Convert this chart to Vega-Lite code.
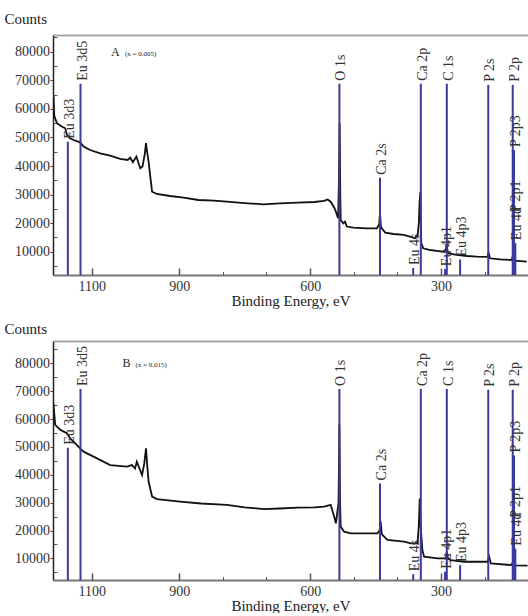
{
  "$schema": "https://vega.github.io/schema/vega-lite/v6.json",
  "padding": {"left": 4, "top": 11, "right": 0, "bottom": 0},
  "background": "white",
  "spacing": 13,
  "config": {
    "view": {"stroke": null},
    "axis": {"labelFont": "Liberation Serif", "titleFont": "Liberation Serif", "grid": false, "labelFontSize": 14, "labelColor": "#333", "titleColor": "#222", "titleFontWeight": "normal", "titleFontSize": 15}
  },
  "datasets": {
    "curveA": [
      {"E":1188,"V":64500},{"E":1186,"V":57500},{"E":1180,"V":55000},{"E":1169,"V":53800},{"E":1161,"V":53200},
      {"E":1157,"V":50900},{"E":1150,"V":49700},{"E":1142,"V":49100},{"E":1127,"V":48300},{"E":1119,"V":46800},
      {"E":1104,"V":45600},{"E":1081,"V":44400},{"E":1058,"V":43600},{"E":1035,"V":42500},{"E":1018,"V":42100},
      {"E":1012,"V":42900},{"E":1006,"V":41300},{"E":998,"V":43300},{"E":992,"V":40500},{"E":989,"V":39200},
      {"E":984,"V":39800},{"E":979,"V":44000},{"E":976,"V":48000},{"E":973,"V":44500},{"E":970,"V":41500},
      {"E":966,"V":36000},{"E":962,"V":31000},{"E":951,"V":30200},{"E":921,"V":29500},{"E":890,"V":28900},
      {"E":856,"V":28100},{"E":820,"V":27900},{"E":791,"V":27500},{"E":750,"V":27000},{"E":707,"V":26600},
      {"E":670,"V":26900},{"E":629,"V":27200},{"E":590,"V":27400},{"E":568,"V":27800},{"E":560,"V":28300},
      {"E":553,"V":27500},{"E":545,"V":25500},{"E":541,"V":24000},{"E":536,"V":21700},{"E":534,"V":35000},
      {"E":532.5,"V":55000},{"E":531,"V":30000},{"E":530,"V":21100},{"E":524,"V":19900},{"E":520,"V":20500},
      {"E":516,"V":18800},{"E":501,"V":18400},{"E":470,"V":18200},{"E":447,"V":18200},{"E":442,"V":19500},
      {"E":440,"V":23500},{"E":438,"V":19000},{"E":436,"V":18200},{"E":428,"V":16700},{"E":409,"V":16200},
      {"E":386,"V":15900},{"E":371,"V":15300},{"E":360,"V":14700},{"E":354,"V":15500},{"E":351,"V":20000},
      {"E":349.5,"V":27000},{"E":347.5,"V":30900},{"E":346.5,"V":20000},{"E":345.5,"V":13000},{"E":341,"V":11200},
      {"E":325,"V":10600},{"E":310,"V":10300},{"E":295,"V":10000},{"E":289,"V":10800},{"E":287.5,"V":12700},
      {"E":285.5,"V":10500},{"E":283,"V":9400},{"E":264,"V":8900},{"E":241,"V":8500},{"E":218,"V":8300},
      {"E":194,"V":8200},{"E":191,"V":9700},{"E":188.5,"V":7700},{"E":165,"V":7300},{"E":138,"V":7100},
      {"E":135,"V":9200},{"E":131,"V":6900},{"E":104,"V":6500}
    ],
    "curveB": [
      {"E":1188,"V":65600},{"E":1184,"V":57900},{"E":1172,"V":56100},{"E":1157,"V":54900},{"E":1150,"V":53100},
      {"E":1138,"V":51300},{"E":1127,"V":49500},{"E":1119,"V":48300},{"E":1096,"V":46500},{"E":1058,"V":43500},
      {"E":1020,"V":42900},{"E":1008,"V":43500},{"E":1001,"V":42300},{"E":997,"V":44700},{"E":985,"V":39900},
      {"E":980,"V":44000},{"E":976,"V":49500},{"E":973,"V":43000},{"E":970,"V":37500},{"E":962,"V":32200},
      {"E":951,"V":31300},{"E":898,"V":30400},{"E":850,"V":29700},{"E":791,"V":29200},{"E":750,"V":28300},
      {"E":706,"V":27700},{"E":670,"V":27900},{"E":629,"V":28200},{"E":590,"V":28300},{"E":568,"V":28600},
      {"E":553,"V":29200},{"E":545,"V":25000},{"E":541,"V":22600},{"E":535,"V":30000},{"E":533,"V":58000},
      {"E":531.5,"V":30000},{"E":530,"V":21400},{"E":522,"V":19600},{"E":507,"V":19000},{"E":446,"V":19000},
      {"E":441,"V":20000},{"E":438.5,"V":23200},{"E":436,"V":19000},{"E":434.5,"V":18400},{"E":423,"V":16600},
      {"E":385,"V":16000},{"E":369,"V":15400},{"E":354,"V":15400},{"E":351,"V":22000},{"E":349,"V":31500},
      {"E":347,"V":22000},{"E":343,"V":13000},{"E":339,"V":10600},{"E":308,"V":10000},{"E":289,"V":10000},
      {"E":287,"V":12400},{"E":284,"V":9800},{"E":278,"V":9400},{"E":247,"V":8800},{"E":194,"V":8800},
      {"E":190,"V":10600},{"E":186,"V":8200},{"E":140,"V":7600},{"E":135,"V":8600},{"E":131,"V":7500},{"E":102,"V":7400}
    ],
    "linesA": [
      {"E":1155,"top":48500,"name":"Eu 3d3"},
      {"E":1126,"top":68800,"name":"Eu 3d5"},
      {"E":533,"top":68800,"name":"O 1s"},
      {"E":440,"top":35900,"name":"Ca 2s"},
      {"E":364,"top":4300,"name":"Eu 4s"},
      {"E":346.5,"top":68800,"name":"Ca 2p"},
      {"E":291,"top":3900,"name":"Eu 4p1"},
      {"E":287,"top":68800,"name":"C 1s"},
      {"E":256.5,"top":7300,"name":"Eu 4p3"},
      {"E":192,"top":68400,"name":"P 2s"},
      {"E":136,"top":68400,"name":"P 2p"},
      {"E":133,"top":45600,"name":"P 2p3"},
      {"E":134,"top":22800,"name":"P 2p1"},
      {"E":130,"top":13000,"name":"Eu 4d"}
    ],
    "linesB": [
      {"E":1155,"top":49700,"name":"Eu 3d3"},
      {"E":1126,"top":70800,"name":"Eu 3d5"},
      {"E":533,"top":70800,"name":"O 1s"},
      {"E":440,"top":36900,"name":"Ca 2s"},
      {"E":364,"top":4300,"name":"Eu 4s"},
      {"E":346.5,"top":70800,"name":"Ca 2p"},
      {"E":291,"top":5200,"name":"Eu 4p1"},
      {"E":287,"top":70800,"name":"C 1s"},
      {"E":256.5,"top":7600,"name":"Eu 4p3"},
      {"E":192,"top":70500,"name":"P 2s"},
      {"E":136,"top":70500,"name":"P 2p"},
      {"E":133,"top":46900,"name":"P 2p3"},
      {"E":134,"top":23500,"name":"P 2p1"},
      {"E":130,"top":13500,"name":"Eu 4d"}
    ],
    "tagA": [{"E":1056,"V":78500,"t":"A","s":"(x = 0.005)","E2":1024}],
    "tagB": [{"E":1030,"V":78800,"t":"B","s":"(x = 0.015)","E2":1000}]
  },
  "vconcat": [
    {
      "width": 475, "height": 240,
      "resolve": {"axis": {"x": "independent", "y": "independent"}},
      "layer": [
        {
          "data": {"name": "curveA"},
          "mark": {"type": "line", "color": "#111", "strokeWidth": 1.8, "clip": true},
          "encoding": {
            "x": {"field": "E", "type": "quantitative", "scale": {"domain": [1189, 101], "nice": false, "zero": false},
              "axis": {"orient": "bottom", "values": [1100, 900, 600, 300], "format": "d", "ticks": false, "labelPadding": 4, "domainColor": "#777", "domainWidth": 2, "title": "Binding Energy, eV", "titlePadding": 0}},
            "y": {"field": "V", "type": "quantitative", "scale": {"domain": [1850, 85850], "nice": false, "zero": false},
              "axis": {"orient": "left", "values": [10000, 20000, 30000, 40000, 50000, 60000, 70000, 80000], "format": "d", "tickSize": 3, "tickColor": "#444", "labelPadding": 0.5, "domainColor": "#222", "domainWidth": 1.5,
                "title": "Counts", "titleAngle": 0, "titleX": -49, "titleY": -12, "titleAlign": "left", "titleBaseline": "alphabetic"}}
          }
        },
        {
          "data": {"name": "linesA"},
          "mark": {"type": "rule", "color": "#3a3aa0", "strokeWidth": 2},
          "encoding": {
            "x": {"field": "E", "type": "quantitative", "scale": {"domain": [1189, 101], "nice": false, "zero": false},
              "axis": {"orient": "bottom", "values": [1100, 900, 600, 300], "tickSize": -7, "tickColor": "#555", "tickWidth": 1.5, "labels": false, "domain": false, "title": null}},
            "y": {"field": "top", "type": "quantitative", "scale": {"domain": [1850, 85850], "nice": false, "zero": false},
              "axis": {"orient": "left", "values": [5000, 15000, 25000, 35000, 45000, 55000, 65000, 75000, 85000], "tickSize": -4, "tickColor": "#555", "labels": false, "domain": false, "title": null}},
            "y2": {"datum": 1850}
          }
        },
        {
          "data": {"name": "linesA"},
          "mark": {"type": "text", "angle": 270, "align": "left", "baseline": "middle", "dx": 3, "dy": 2, "font": "Liberation Serif", "fontSize": 14, "color": "#333"},
          "encoding": {
            "x": {"field": "E", "type": "quantitative", "scale": {"domain": [1189, 101], "nice": false, "zero": false},
              "axis": {"orient": "bottom", "values": [800, 700, 500, 400, 200], "tickSize": -3.5, "tickColor": "#555", "labels": false, "domain": false, "title": null}},
            "y": {"field": "top", "type": "quantitative", "scale": {"domain": [1850, 85850], "nice": false, "zero": false}, "axis": null},
            "text": {"field": "name"}
          }
        },
        {
          "data": {"name": "tagA"},
          "mark": {"type": "text", "align": "left", "baseline": "alphabetic", "font": "Liberation Serif", "fontSize": 12, "color": "#222"},
          "encoding": {
            "x": {"field": "E", "type": "quantitative", "scale": {"domain": [1189, 101], "nice": false, "zero": false},
              "axis": {"orient": "top", "ticks": false, "labels": false, "domainColor": "#a8a8a8", "domainWidth": 2, "title": null}},
            "y": {"field": "V", "type": "quantitative", "scale": {"domain": [1850, 85850], "nice": false, "zero": false}, "axis": null},
            "text": {"field": "t"}
          }
        },
        {
          "data": {"name": "tagA"},
          "mark": {"type": "text", "align": "left", "baseline": "alphabetic", "font": "Liberation Serif", "fontSize": 7, "color": "#222"},
          "encoding": {
            "x": {"field": "E2", "type": "quantitative", "scale": {"domain": [1189, 101], "nice": false, "zero": false}, "axis": null},
            "y": {"field": "V", "type": "quantitative", "scale": {"domain": [1850, 85850], "nice": false, "zero": false}, "axis": null},
            "text": {"field": "s"}
          }
        }
      ]
    },
    {
      "width": 475, "height": 239,
      "resolve": {"axis": {"x": "independent", "y": "independent"}},
      "layer": [
        {
          "data": {"name": "curveB"},
          "mark": {"type": "line", "color": "#111", "strokeWidth": 1.8, "clip": true},
          "encoding": {
            "x": {"field": "E", "type": "quantitative", "scale": {"domain": [1189, 101], "nice": false, "zero": false},
              "axis": {"orient": "bottom", "values": [1100, 900, 600, 300], "format": "d", "ticks": false, "labelPadding": 4, "domainColor": "#777", "domainWidth": 2, "title": "Binding Energy, eV", "titlePadding": 0}},
            "y": {"field": "V", "type": "quantitative", "scale": {"domain": [2250, 88000], "nice": false, "zero": false},
              "axis": {"orient": "left", "values": [10000, 20000, 30000, 40000, 50000, 60000, 70000, 80000], "format": "d", "tickSize": 3, "tickColor": "#444", "labelPadding": 0.5, "domainColor": "#222", "domainWidth": 1.5,
                "title": "Counts", "titleAngle": 0, "titleX": -49, "titleY": -8, "titleAlign": "left", "titleBaseline": "alphabetic"}}
          }
        },
        {
          "data": {"name": "linesB"},
          "mark": {"type": "rule", "color": "#3a3aa0", "strokeWidth": 2},
          "encoding": {
            "x": {"field": "E", "type": "quantitative", "scale": {"domain": [1189, 101], "nice": false, "zero": false},
              "axis": {"orient": "bottom", "values": [1100, 900, 600, 300], "tickSize": -7, "tickColor": "#555", "tickWidth": 1.5, "labels": false, "domain": false, "title": null}},
            "y": {"field": "top", "type": "quantitative", "scale": {"domain": [2250, 88000], "nice": false, "zero": false},
              "axis": {"orient": "left", "values": [5000, 15000, 25000, 35000, 45000, 55000, 65000, 75000, 85000], "tickSize": -4, "tickColor": "#555", "labels": false, "domain": false, "title": null}},
            "y2": {"datum": 2250}
          }
        },
        {
          "data": {"name": "linesB"},
          "mark": {"type": "text", "angle": 270, "align": "left", "baseline": "middle", "dx": 3, "dy": 2, "font": "Liberation Serif", "fontSize": 14, "color": "#333"},
          "encoding": {
            "x": {"field": "E", "type": "quantitative", "scale": {"domain": [1189, 101], "nice": false, "zero": false},
              "axis": {"orient": "bottom", "values": [800, 700, 500, 400, 200], "tickSize": -3.5, "tickColor": "#555", "labels": false, "domain": false, "title": null}},
            "y": {"field": "top", "type": "quantitative", "scale": {"domain": [2250, 88000], "nice": false, "zero": false}, "axis": null},
            "text": {"field": "name"}
          }
        },
        {
          "data": {"name": "tagB"},
          "mark": {"type": "text", "align": "left", "baseline": "alphabetic", "font": "Liberation Serif", "fontSize": 12, "color": "#222"},
          "encoding": {
            "x": {"field": "E", "type": "quantitative", "scale": {"domain": [1189, 101], "nice": false, "zero": false},
              "axis": {"orient": "top", "ticks": false, "labels": false, "domainColor": "#a8a8a8", "domainWidth": 2, "title": null}},
            "y": {"field": "V", "type": "quantitative", "scale": {"domain": [2250, 88000], "nice": false, "zero": false}, "axis": null},
            "text": {"field": "t"}
          }
        },
        {
          "data": {"name": "tagB"},
          "mark": {"type": "text", "align": "left", "baseline": "alphabetic", "font": "Liberation Serif", "fontSize": 7, "color": "#222"},
          "encoding": {
            "x": {"field": "E2", "type": "quantitative", "scale": {"domain": [1189, 101], "nice": false, "zero": false}, "axis": null},
            "y": {"field": "V", "type": "quantitative", "scale": {"domain": [2250, 88000], "nice": false, "zero": false}, "axis": null},
            "text": {"field": "s"}
          }
        }
      ]
    }
  ]
}
